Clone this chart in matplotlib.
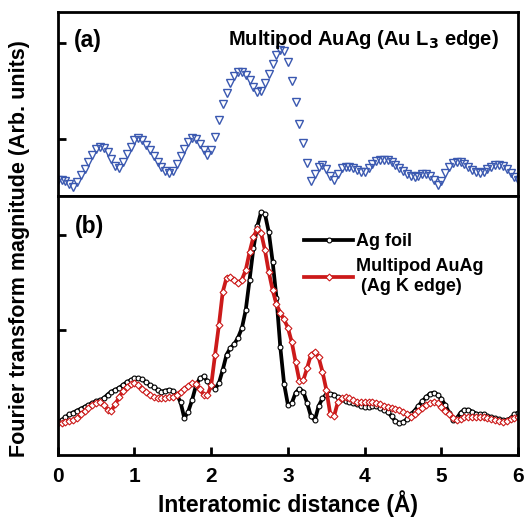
import numpy as np
import matplotlib
matplotlib.use('Agg')
import matplotlib.pyplot as plt

plt.rcParams['font.family'] = ['Liberation Sans', 'DejaVu Sans']
plt.rcParams['font.weight'] = 'bold'

# Data #
# R grid (Angstrom), values in arbitrary units
r = np.linspace(0, 6, 121)

au_l3 = [0.57, 0.57, 0.56, 0.53, 0.50, 0.55, 0.62, 0.69, 0.76, 0.83,
         0.89, 0.92, 0.91, 0.86, 0.79, 0.72, 0.70, 0.76, 0.84, 0.92,
         0.99, 1.01, 0.99, 0.94, 0.88, 0.82, 0.76, 0.71, 0.67, 0.65,
         0.67, 0.74, 0.82, 0.90, 0.97, 1.01, 1.00, 0.95, 0.88, 0.83,
         0.88, 1.02, 1.20, 1.36, 1.48, 1.58, 1.66, 1.70, 1.70, 1.67,
         1.61, 1.54, 1.49, 1.50, 1.58, 1.68, 1.78, 1.87, 1.93, 1.92,
         1.80, 1.60, 1.38, 1.16, 0.96, 0.75, 0.56, 0.63, 0.71, 0.73,
         0.69, 0.61, 0.57, 0.63, 0.70, 0.71, 0.71, 0.70, 0.68, 0.66,
         0.66, 0.70, 0.74, 0.77, 0.78, 0.78, 0.78, 0.76, 0.73, 0.70,
         0.67, 0.63, 0.61, 0.60, 0.61, 0.63, 0.63, 0.61, 0.57, 0.52,
         0.56, 0.64, 0.71, 0.75, 0.76, 0.76, 0.74, 0.71, 0.68, 0.66,
         0.65, 0.66, 0.69, 0.71, 0.73, 0.73, 0.72, 0.69, 0.65, 0.60,
         0.57]

ag_foil = [0.03, 0.05, 0.08, 0.11, 0.13, 0.15, 0.17, 0.19, 0.21, 0.23,
           0.25, 0.26, 0.28, 0.32, 0.35, 0.37, 0.39, 0.42, 0.45, 0.47,
           0.49, 0.49, 0.48, 0.45, 0.42, 0.40, 0.37, 0.35, 0.36, 0.37,
           0.36, 0.32, 0.24, 0.07, 0.14, 0.26, 0.41, 0.49, 0.51, 0.46,
           0.41, 0.38, 0.44, 0.58, 0.74, 0.81, 0.85, 0.92, 1.02, 1.21,
           1.53, 1.86, 2.09, 2.24, 2.22, 2.03, 1.72, 1.34, 0.82, 0.43,
           0.21, 0.23, 0.34, 0.38, 0.35, 0.23, 0.09, 0.05, 0.20, 0.28,
           0.32, 0.33, 0.32, 0.29, 0.27, 0.25, 0.24, 0.23, 0.22, 0.20,
           0.19, 0.19, 0.20, 0.20, 0.18, 0.16, 0.14, 0.09, 0.04, 0.02,
           0.03, 0.06, 0.11, 0.15, 0.20, 0.25, 0.29, 0.33, 0.34, 0.32,
           0.27, 0.21, 0.13, 0.05, 0.07, 0.13, 0.16, 0.16, 0.14, 0.12,
           0.11, 0.11, 0.09, 0.08, 0.07, 0.06, 0.05, 0.05, 0.07, 0.11,
           0.13]

ag_k = [0.02, 0.02, 0.03, 0.04, 0.05, 0.07, 0.11, 0.15, 0.18, 0.21,
        0.23, 0.24, 0.21, 0.16, 0.15, 0.22, 0.29, 0.36, 0.40, 0.43,
        0.44, 0.42, 0.38, 0.35, 0.32, 0.29, 0.28, 0.28, 0.28, 0.29,
        0.29, 0.32, 0.35, 0.38, 0.41, 0.44, 0.43, 0.38, 0.32, 0.31,
        0.42, 0.74, 1.05, 1.40, 1.55, 1.56, 1.53, 1.49, 1.53, 1.63,
        1.82, 1.98, 2.06, 2.02, 1.84, 1.61, 1.42, 1.27, 1.18, 1.11,
        1.02, 0.87, 0.66, 0.46, 0.47, 0.60, 0.74, 0.77, 0.71, 0.56,
        0.37, 0.12, 0.09, 0.24, 0.28, 0.29, 0.28, 0.26, 0.24, 0.24,
        0.24, 0.24, 0.24, 0.23, 0.22, 0.20, 0.19, 0.18, 0.17, 0.16,
        0.14, 0.11, 0.08, 0.11, 0.15, 0.18, 0.21, 0.23, 0.24, 0.23,
        0.19, 0.15, 0.11, 0.07, 0.05, 0.06, 0.08, 0.08, 0.08, 0.08,
        0.08, 0.08, 0.07, 0.06, 0.05, 0.04, 0.03, 0.04, 0.06, 0.07,
        0.08]

# Figure #
fig = plt.figure(figsize=(5.25, 5.17), dpi=100)
axA = fig.add_axes([0.110, 0.621, 0.877, 0.356])
axB = fig.add_axes([0.110, 0.120, 0.877, 0.501])

blue = '#3a58b0'
red = '#cc1a1a'

# (a) Au L3 edge
axA.plot(r, au_l3, linestyle='none', marker='v', ms=5.8, mfc='none',
         mec=blue, mew=1.0)
axA.set_xlim(0, 6)
axA.set_ylim(0.406, 2.323)
axA.set_xticks([])
axA.set_yticks([1, 2])
axA.set_yticklabels([])
axA.text(0.21, 2.02, '(a)', fontsize=16.5, fontweight='bold', va='center')
axA.text(3.98, 2.04, r'Multipod AuAg (Au L$_\mathbf{3}$ edge)', fontsize=14.5,
         fontweight='bold', ha='center', va='center')

# (b) Ag K edge
axB.plot(r, ag_foil, '-', color='black', lw=2.7, marker='o', ms=3.5,
         mfc='white', mec='black', mew=0.8, label='Ag foil')
axB.plot(r, ag_k, '-', color=red, lw=2.7, marker='D', ms=3.5,
         mfc='white', mec=red, mew=0.8, label='Multipod AuAg\n (Ag K edge)')
axB.set_xlim(0, 6)
axB.set_ylim(-0.316, 2.41)
axB.set_xticks(range(7))
axB.set_yticks([1, 2])
axB.set_yticklabels([])
axB.tick_params(axis='x', labelsize=15, pad=9)
axB.text(0.22, 2.09, '(b)', fontsize=16.5, fontweight='bold', va='center')
axB.set_xlabel('Interatomic distance (Å)', fontsize=16.5, fontweight='bold',
               labelpad=3)

leg = axB.legend(loc='upper left', bbox_to_anchor=(0.50, 0.92), frameon=False,
                 fontsize=13, handlelength=2.7, handletextpad=0.15,
                 labelspacing=0.45)

for ax in (axA, axB):
    for s in ax.spines.values():
        s.set_linewidth(2)
    ax.tick_params(direction='in', length=6, width=2, right=False, top=False)

fig.text(0.038, 0.52, 'Fourier transform magnitude (Arb. units)', rotation=90,
         fontsize=15.5, fontweight='bold', ha='center', va='center')

fig.savefig('out.png', dpi=100)
